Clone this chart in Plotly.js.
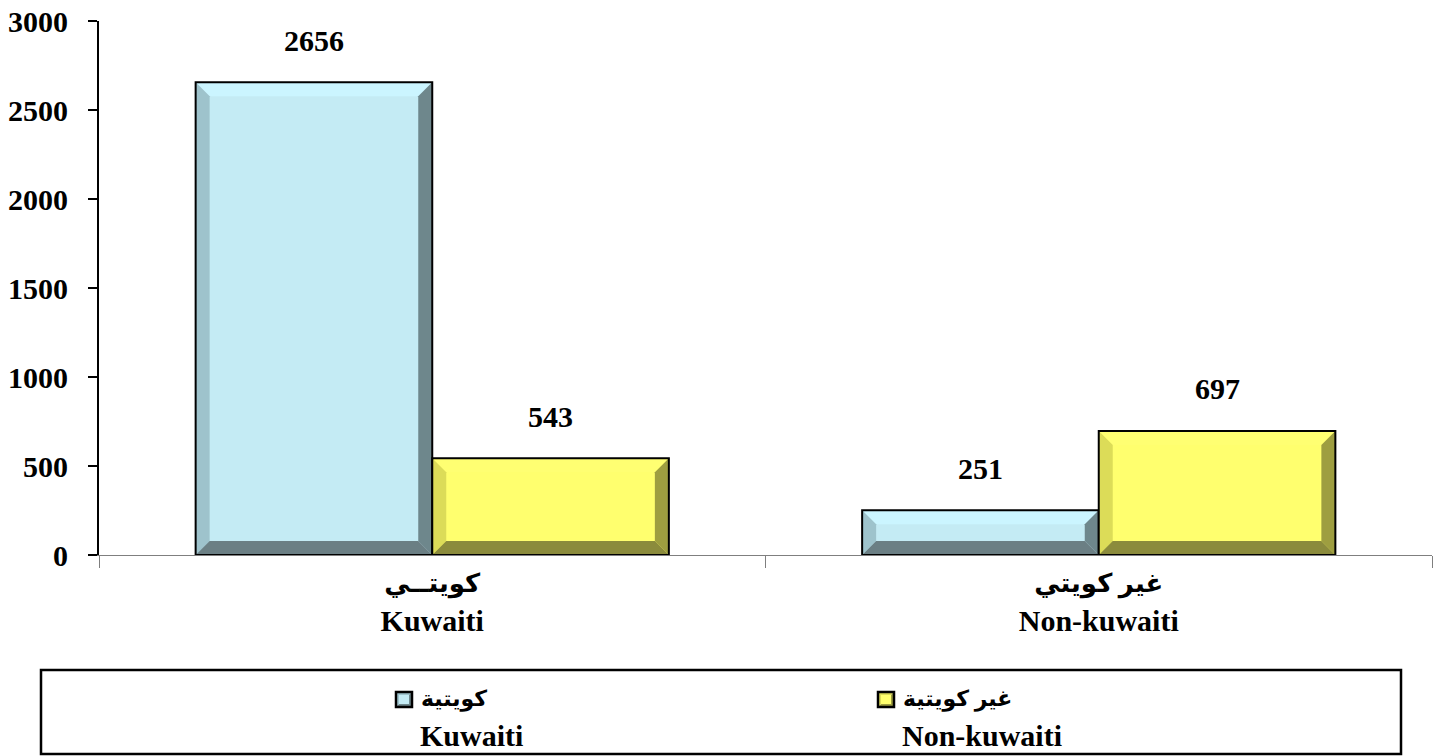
<!DOCTYPE html>
<html>
<head>
<meta charset="utf-8">
<script src="https://cdn.plot.ly/plotly-3.0.1.min.js"></script>
<style>html,body{margin:0;padding:0;background:#fff;}#chart{width:1442px;height:756px;}</style>
</head>
<body>
<div id="chart"></div>
<script>
// ---- data ----
const categoriesAr = ['كويتــي', 'غير كويتي'];
const categoriesEn = ['Kuwaiti', 'Non-kuwaiti'];
const seriesNamesAr = ['كويتية', 'غير كويتية'];
const seriesNamesEn = ['Kuwaiti', 'Non-kuwaiti'];
const kuwaitiValues = [2656, 251];
const nonKuwaitiValues = [543, 697];
const yTickVals = [0, 500, 1000, 1500, 2000, 2500, 3000];

// ---- styling ----
const FONT = 'Liberation Serif, DejaVu Sans, serif';
const FS = 30;
const W = 1442, Hh = 756;
const M = {l: 99, r: 10, t: 21, b: 201};
const PW = W - M.l - M.r, PH = Hh - M.t - M.b;
const YMAX = 3000;
const BARGAP = 0.29;
const palettes = [
  {main: '#C4EBF4', top: '#CBF5FF', left: '#9EC3CC', right: '#6E878C', bottom: '#6B7F84'},
  {main: '#FFFF6E', top: '#FFFF72', left: '#DCDC58', right: '#9E9E40', bottom: '#8B8B3C'}
];
const series = [kuwaitiValues, nonKuwaitiValues];
const categories = categoriesAr.map((a, i) => '<span style="font-size:26px">' + a + '</span><br>' + categoriesEn[i]);

const traces = series.map((vals, i) => ({
  type: 'bar', x: categories, y: vals, name: seriesNamesAr[i],
  marker: {color: palettes[i].main, line: {color: '#000', width: 0}},
  showlegend: false, hoverinfo: 'skip'
}));

// bevel decorations derived from the data values
const shapes = [];
const annotations = [];
const bw = (1 - BARGAP) / 2;
const bx = 14 * 2 / PW;          // 14px in x data units (range 2)
const by = 14 * YMAX / PH;       // 14px in y data units
series.forEach((vals, i) => {
  const p = palettes[i];
  vals.forEach((v, c) => {
    const x0 = c - (1 - BARGAP) / 2 + i * bw, x1 = x0 + bw;
    const b = Math.min(by, v / 2);
    const poly = (pts, col) => shapes.push({type: 'path', xref: 'x2', yref: 'y', layer: 'above',
      path: 'M' + pts.map(q => q[0] + ',' + q[1]).join(' L') + ' Z', fillcolor: col, line: {width: 0}});
    poly([[x0, v], [x1, v], [x1 - bx, v - b], [x0 + bx, v - b]], p.top);
    poly([[x0, 0], [x0, v], [x0 + bx, v - b], [x0 + bx, b]], p.left);
    poly([[x1, 0], [x1, v], [x1 - bx, v - b], [x1 - bx, b]], p.right);
    poly([[x0, 0], [x1, 0], [x1 - bx, b], [x0 + bx, b]], p.bottom);
    shapes.push({type: 'rect', xref: 'x2', yref: 'y', layer: 'above', x0: x0, x1: x1, y0: 0, y1: v,
      line: {color: '#000', width: 2}, fillcolor: 'rgba(0,0,0,0)'});
    annotations.push({xref: 'x2', yref: 'y', x: (x0 + x1) / 2, y: v, yanchor: 'middle', yshift: 42,
      text: String(v), showarrow: false, font: {family: FONT, size: FS, color: '#000', weight: 'bold'}});
  });
});

// custom legend (box + markers + text)
const px2x = px => (px - M.l) / PW;
const px2y = py => 1 - (py - M.t) / PH;
shapes.push({type: 'rect', xref: 'paper', yref: 'paper', x0: px2x(41), x1: px2x(1401), y0: px2y(670), y1: px2y(754),
  line: {color: '#000', width: 2.5}, fillcolor: 'rgba(0,0,0,0)'});
const legendX = [396, 878];
seriesNamesAr.forEach((nm, i) => {
  const p = palettes[i];
  const lx0 = legendX[i], lx1 = lx0 + 16, ly0 = 692, ly1 = 707;
  shapes.push({type: 'path', xref: 'paper', yref: 'paper',
    path: `M${px2x(lx0)},${px2y(ly0)} L${px2x(lx1)},${px2y(ly0)} L${px2x(lx0)},${px2y(ly1)} Z`, fillcolor: p.left, line: {width: 0}});
  shapes.push({type: 'path', xref: 'paper', yref: 'paper',
    path: `M${px2x(lx1)},${px2y(ly0)} L${px2x(lx1)},${px2y(ly1)} L${px2x(lx0)},${px2y(ly1)} Z`, fillcolor: p.right, line: {width: 0}});
  shapes.push({type: 'rect', xref: 'paper', yref: 'paper', x0: px2x(lx0 + 3), x1: px2x(lx1 - 3), y0: px2y(ly0 + 3), y1: px2y(ly1 - 3),
    fillcolor: p.main, line: {width: 0}});
  shapes.push({type: 'rect', xref: 'paper', yref: 'paper', x0: px2x(lx0), x1: px2x(lx1), y0: px2y(ly0), y1: px2y(ly1),
    fillcolor: 'rgba(0,0,0,0)', line: {color: '#000', width: 2.5}});
  annotations.push({xref: 'paper', yref: 'paper', x: px2x(lx1 + 7), y: px2y(699), xanchor: 'left', yanchor: 'middle',
    text: nm, showarrow: false, font: {family: FONT, size: 22, color: '#000', weight: 'bold'}});
  annotations.push({xref: 'paper', yref: 'paper', x: px2x(lx1 + 6), y: px2y(735), xanchor: 'left', yanchor: 'middle',
    text: seriesNamesEn[i], showarrow: false, font: {family: FONT, size: FS, color: '#000', weight: 'bold'}});
});

const layout = {
  width: W, height: Hh,
  margin: M,
  paper_bgcolor: '#fff', plot_bgcolor: '#fff',
  barmode: 'group', bargap: BARGAP, bargroupgap: 0,
  showlegend: false,
  font: {family: FONT, size: FS, color: '#000'},
  xaxis: {type: 'category', range: [-0.5, 1.5], showgrid: false, zeroline: false,
    showline: true, linecolor: '#7f7f7f', linewidth: 1,
    ticks: 'outside', tickson: 'boundaries', ticklen: 12, tickcolor: '#7f7f7f', tickwidth: 1,
    tickfont: {family: FONT, size: FS, color: '#000', weight: 'bold'}},
  xaxis2: {overlaying: 'x', anchor: 'y', range: [-0.5, 1.5], visible: false, fixedrange: true},
  yaxis: {range: [0, YMAX], tickvals: yTickVals, ticktext: yTickVals.map(String), showgrid: false, zeroline: false,
    showline: true, linecolor: '#000', linewidth: 2,
    ticks: 'outside', ticklen: 9, tickwidth: 2, tickcolor: '#000', ticklabelstandoff: 14,
    tickfont: {family: FONT, size: FS, color: '#000', weight: 'bold'}},
  shapes: shapes,
  annotations: annotations
};

Plotly.newPlot('chart', traces, layout, {staticPlot: true, displayModeBar: false});
</script>
</body>
</html>
